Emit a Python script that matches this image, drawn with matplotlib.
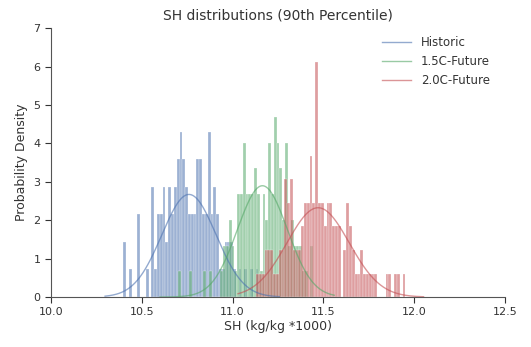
import numpy as np
import matplotlib.pyplot as plt

# bin layout per series (left edge of first bin, bin width)
hist_start = 10.398
fut15_start = 10.700
fut20_start = 11.130
bin_w = 0.0155

# probability density of each bin
hist_dens = [1.43, 0, 0.72, 0, 0, 2.15, 0, 0, 0.72, 0,
             2.86, 0.72, 2.15, 2.15, 2.86, 1.43, 2.86, 2.15, 2.86, 3.58,
             4.29, 3.58, 2.86, 2.15, 2.15, 2.15, 3.58, 3.58, 2.15, 2.15,
             4.29, 2.15, 2.86, 2.15, 0.72, 0.72, 1.43, 1.43, 1.43, 0.72,
             0, 0.72, 0, 0.72, 0, 0.72, 0, 0.72, 0]
fut15_dens = [0.67, 0, 0, 0, 0.67, 0, 0, 0, 0, 0.67,
              0, 0.67, 0, 0, 0, 0.67, 1.34, 1.34, 2.01, 1.34,
              0.67, 2.68, 2.68, 4.02, 2.68, 2.68, 2.68, 3.35, 2.68, 0.67,
              2.68, 2.01, 4.02, 2.68, 4.69, 4.02, 3.35, 2.01, 4.02, 1.34,
              2.01, 1.34, 1.34, 1.34, 0.67, 0.67, 0, 1.34, 0]
fut20_dens = [0.61, 0.61, 0.61, 1.22, 1.22, 1.22, 0.61, 0.61, 1.22, 1.22,
              3.06, 2.45, 3.06, 1.22, 1.22, 1.22, 1.84, 2.45, 2.45, 3.67,
              2.45, 6.12, 2.45, 2.45, 1.84, 2.45, 2.45, 1.84, 1.84, 1.84,
              0, 1.22, 2.45, 1.84, 1.22, 0.61, 0.61, 1.22, 0.61, 0.61,
              0.61, 0.61, 0.61, 0, 0, 0, 0.61, 0.61, 0, 0.61,
              0.61, 0, 0.61]

series = [
    ('Historic', hist_start, hist_dens, '#4C72B0'),
    ('1.5C-Future', fut15_start, fut15_dens, '#55A868'),
    ('2.0C-Future', fut20_start, fut20_dens, '#C44E52'),
]

plt.rcParams['font.family'] = 'DejaVu Sans'
fig = plt.figure(figsize=(5.31, 3.47), dpi=100)
ax = fig.add_axes([0.096, 0.144, 0.855, 0.775])

for label, start, dens, color in series:
    dens = np.array(dens)
    edges = start + bin_w * np.arange(len(dens))
    centers = edges + bin_w / 2
    ax.bar(edges, dens, width=bin_w, align='edge', color=color, alpha=0.55,
           edgecolor='white', linewidth=0.35)
    # normal fit from the binned values
    mu = np.average(centers, weights=dens)
    sd = np.sqrt(np.average((centers - mu) ** 2, weights=dens))
    xs = np.linspace(edges[0] - 0.1, edges[-1] + bin_w + 0.1, 200)
    pdf = np.exp(-0.5 * ((xs - mu) / sd) ** 2) / (sd * np.sqrt(2 * np.pi))
    ax.plot(xs, pdf, color=color, lw=1, alpha=0.6, label=label)

ax.set_xlim(10.0, 12.5)
ax.set_ylim(0, 7)
ax.set_xticks([10.0, 10.5, 11.0, 11.5, 12.0, 12.5])
ax.set_yticks(range(8))
for s in ['top', 'right']:
    ax.spines[s].set_visible(False)
for s in ['left', 'bottom']:
    ax.spines[s].set_color('#555555')
ax.tick_params(direction='out', colors='#333333', labelsize=8, length=4)

ax.set_title('SH distributions (90th Percentile)', fontsize=10, color='#333333')
ax.set_xlabel('SH (kg/kg *1000)', fontsize=9, color='#333333', labelpad=2)
ax.set_ylabel('Probability Density', fontsize=9, color='#333333', labelpad=4)
ax.legend(loc='upper right', frameon=False, fontsize=8.5, handlelength=2.5,
          labelspacing=0.5, bbox_to_anchor=(0.99, 1.01), labelcolor='#333333')

fig.savefig('out.png', dpi=100)
